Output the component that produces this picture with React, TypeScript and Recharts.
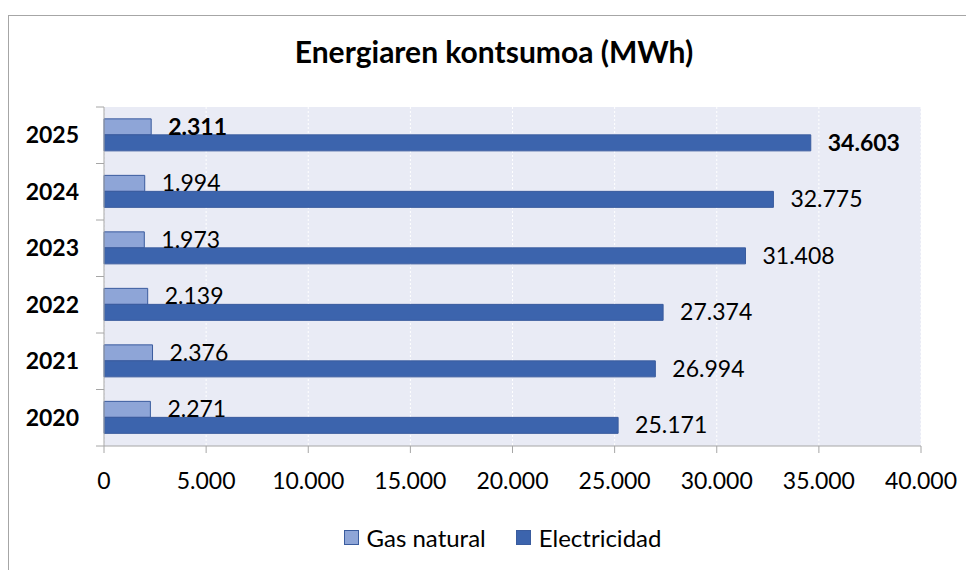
import { Bar, BarChart, CartesianGrid, LabelList, Legend, XAxis, YAxis } from 'recharts'

const years = ['2025', '2024', '2023', '2022', '2021', '2020']
const gasNatural = [2311, 1994, 1973, 2139, 2376, 2271]
const electricidad = [34603, 32775, 31408, 27374, 26994, 25171]
const xTicks = [0, 5000, 10000, 15000, 20000, 25000, 30000, 35000, 40000]
const boldYear = '2025'

const data = years.map((year, i) => ({
  year,
  gas: gasNatural[i],
  elec: electricidad[i],
}))

const FONT = 'Lato, "Open Sans", sans-serif'
const GAS_FILL = '#8EA5D7'
const ELEC_FILL = '#3C64AD'
const BAR_STROKE = '#3A5C9E'
const AXIS = '#A6A6A6'

const fmt = (v: number) => String(v).replace(/\B(?=(\d{3})+(?!\d))/g, '.')

const YTick = (props: any) => {
  const { x, y, payload, index, height } = props
  const band = (height || 339) / years.length
  return (
    <g>
      <line x1={x - 8} x2={x} y1={y - band / 2} y2={y - band / 2} stroke={AXIS} />
      {index === years.length - 1 && (
        <line x1={x - 8} x2={x} y1={y + band / 2} y2={y + band / 2} stroke={AXIS} />
      )}
      <text
        x={x - 25}
        y={y}
        dy="0.35em"
        textAnchor="end"
        fontSize={23}
        fontWeight={700}
        fontFamily={FONT}
        fill="#000"
      >
        {payload.value}
      </text>
    </g>
  )
}

const renderLabel = (props: any) => {
  const { x, y, width, height, value, index } = props
  const bold = years[index] === boldYear
  return (
    <text
      x={x + width + 17}
      y={y + height / 2}
      dy="0.35em"
      fontSize={23}
      fontWeight={bold ? 700 : 400}
      fontFamily={FONT}
      fill="#000"
    >
      {fmt(value)}
    </text>
  )
}

const renderLegend = () => (
  <div
    style={{
      height: 40,
      display: 'flex',
      justifyContent: 'center',
      alignItems: 'center',
      paddingLeft: 22,
      fontFamily: FONT,
      fontSize: 24,
      color: '#000',
    }}
  >
    <span style={{ display: 'flex', alignItems: 'center', marginRight: 30 }}>
      <span style={{ width: 13, height: 13, background: GAS_FILL, border: `1px solid ${BAR_STROKE}`, marginRight: 8 }} />
      Gas natural
    </span>
    <span style={{ display: 'flex', alignItems: 'center' }}>
      <span style={{ width: 13, height: 13, background: ELEC_FILL, border: `1px solid ${BAR_STROKE}`, marginRight: 8 }} />
      Electricidad
    </span>
  </div>
)

export default function App() {
  return (
    <div style={{ paddingTop: 7 }}>
      <style>{`body{overflow:hidden}`}</style>
      <div
        style={{
          position: 'relative',
          width: 965,
          height: 554,
          borderTop: `1px solid ${AXIS}`,
          borderLeft: `1px solid ${AXIS}`,
        }}
      >
        <svg
          width={965}
          height={80}
          style={{ position: 'absolute', left: 0, top: 0, pointerEvents: 'none' }}
        >
          <text x={485} y={47} textAnchor="middle" fontSize={30} fontWeight={700} fontFamily={FONT} fill="#000">
            Energiaren kontsumoa (MWh)
          </text>
        </svg>
        <BarChart
          width={965}
          height={554}
          data={data}
          layout="vertical"
          margin={{ top: 91, right: 53, left: 10, bottom: 13 }}
          barCategoryGap="21%"
          barGap={0}
        >
          <CartesianGrid horizontal={false} stroke="#fff" strokeDasharray="2 2" fill="#E9EBF5" />
          <XAxis
            type="number"
            domain={[0, 40000]}
            ticks={xTicks}
            tickFormatter={fmt}
            interval={0}
            height={71}
            tickSize={7}
            tickMargin={20}
            stroke={AXIS}
            tick={{ fill: '#000', fontSize: 23, fontFamily: FONT }}
          />
          <YAxis
            type="category"
            dataKey="year"
            width={85}
            tickSize={0}
            tickMargin={0}
            stroke={AXIS}
            tick={<YTick />}
          />
          <Legend verticalAlign="bottom" content={renderLegend} wrapperStyle={{ left: 0, width: 965 }} />
          <Bar dataKey="gas" name="Gas natural" fill={GAS_FILL} stroke={BAR_STROKE} isAnimationActive={false}>
            <LabelList dataKey="gas" content={renderLabel} />
          </Bar>
          <Bar dataKey="elec" name="Electricidad" fill={ELEC_FILL} stroke={BAR_STROKE} isAnimationActive={false}>
            <LabelList dataKey="elec" content={renderLabel} />
          </Bar>
        </BarChart>
      </div>
    </div>
  )
}
